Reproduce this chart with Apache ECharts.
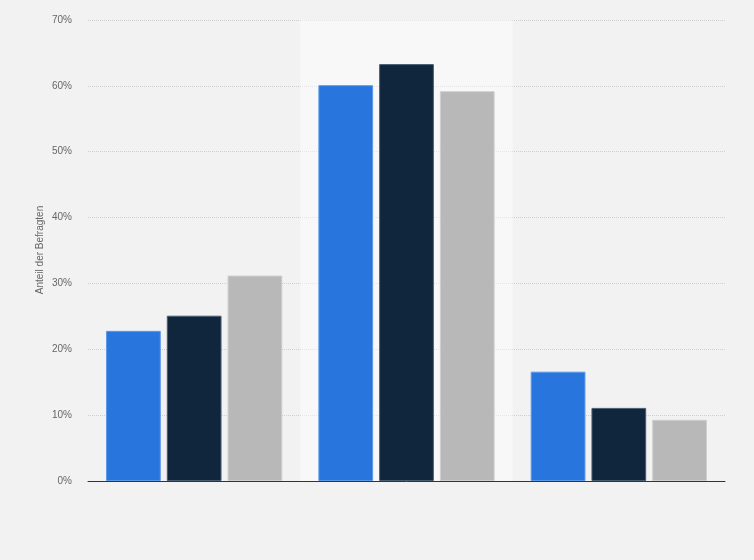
<!DOCTYPE html>
<html>
<head>
<meta charset="utf-8">
<script src="https://cdn.jsdelivr.net/npm/echarts@6/dist/echarts.min.js"></script>
<style>
  html, body { margin: 0; padding: 0; background: #f2f2f2; }
  #chart { width: 754px; height: 560px; }
</style>
</head>
<body>
<div id="chart"></div>
<script>
// Kategorien (keine Beschriftung im Original sichtbar)
var categories = ['Gruppe 1', 'Gruppe 2', 'Gruppe 3'];
var yTicks = [0, 10, 20, 30, 40, 50, 60, 70];
var yTitle = 'Anteil der Befragten';

// Werte in Prozent
var seriesA = [22.8, 60.1, 16.6];
var seriesB = [25.1, 63.3, 11.1];
var seriesC = [31.2, 59.2, 9.3];

var seriesNames = ['Reihe 1', 'Reihe 2', 'Reihe 3'];
var colors = ['#2876dd', '#10263d', '#b8b8b8'];
var borders = ['#5a97e6', '#4a5d72', '#cfcfcf'];

var chart = echarts.init(document.getElementById('chart'));

function makeSeries(i, data){
    return {
        name: seriesNames[i],
        type: 'bar',
        z: 5,
        data: data,
        barGap: '11%',
        barCategoryGap: '17%',
        itemStyle: {
            color: colors[i],
            borderColor: borders[i],
            borderWidth: 1
        },
        emphasis: { disabled: true }
    };
}

chart.setOption({
    backgroundColor: '#f2f2f2',
    animation: false,
    grid: {
        left: 88,
        right: 29,
        top: 20,
        bottom: 79
    },
    graphic: [{
        type: 'text',
        x: 40,
        y: 250,
        rotation: Math.PI / 2,
        style: {
            text: yTitle,
            fill: '#666',
            fontSize: 10,
            fontFamily: 'Liberation Sans',
            align: 'center',
            verticalAlign: 'middle'
        }
    }],
    xAxis: {
        type: 'category',
        data: categories,
        z: 6,
        axisLine: { lineStyle: { color: '#333', width: 1 } },
        axisTick: { show: false },
        axisLabel: { show: false },
        axisPointer: {
            show: true,
            type: 'shadow',
            value: 1,
            status: 'show',
            z: 1,
            triggerTooltip: false,
            label: { show: false },
            shadowStyle: { color: 'rgba(255,255,255,0.45)' }
        }
    },
    yAxis: {
        type: 'value',
        min: yTicks[0],
        max: yTicks[yTicks.length - 1],
        interval: 10,
        axisLine: { show: false },
        axisTick: { show: false },
        axisLabel: {
            color: '#666',
            fontSize: 10,
            fontFamily: 'Liberation Sans',
            margin: 16,
            formatter: '{value}%'
        },
        splitLine: {
            lineStyle: { color: '#cfcfcf', type: [1, 1], width: 1 }
        }
    },
    series: [
        makeSeries(0, seriesA),
        makeSeries(1, seriesB),
        makeSeries(2, seriesC)
    ]
});
</script>
</body>
</html>
